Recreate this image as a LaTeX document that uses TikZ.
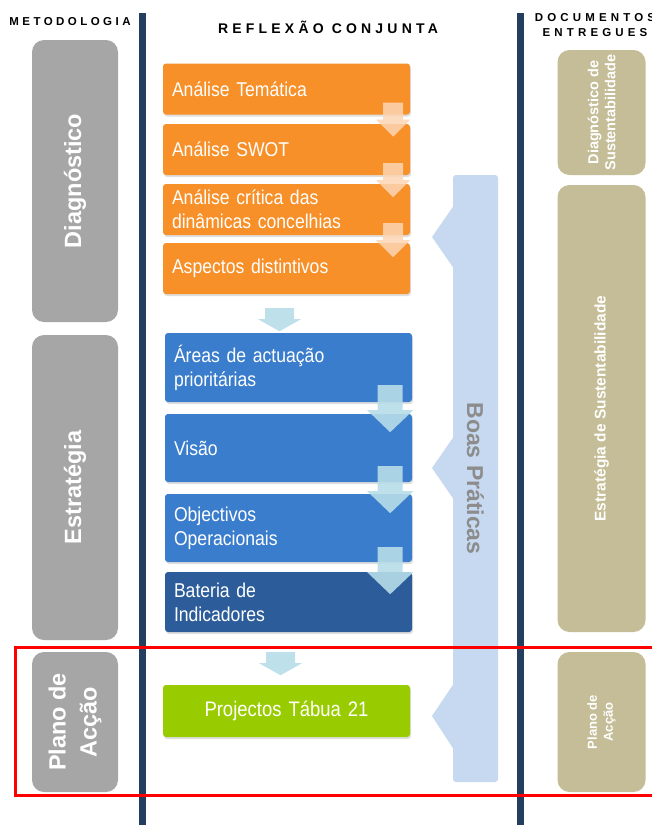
\documentclass[tikz,border=0pt]{standalone}
\usepackage{fontspec}
\setmainfont{Liberation Sans}
\newfontfamily\headfont[LetterSpace=30]{Liberation Sans}
\newfontfamily\wideheadfont[LetterSpace=36]{Liberation Sans}
\newfontfamily\boxfont[FakeStretch=0.88,WordSpace=0.75]{Liberation Sans}
\usepackage{tikz}
\usetikzlibrary{calc}
\usetikzlibrary{shadows}

\definecolor{navy}{RGB}{36,62,96}
\definecolor{metgray}{RGB}{166,166,166}
\definecolor{doctan}{RGB}{196,189,151}
\definecolor{orangebox}{RGB}{247,144,40}
\definecolor{bluebox}{RGB}{58,125,204}
\definecolor{darkbluebox}{RGB}{44,93,154}
\definecolor{greenbox}{RGB}{153,204,0}
\definecolor{practice}{RGB}{198,217,241}
\definecolor{practicetext}{RGB}{140,140,140}
\definecolor{peach}{RGB}{252,213,180}
\definecolor{skyarrow}{RGB}{183,221,232}

\tikzset{
  pics/dnarrow/.style args={#1/#2/#3/#4}{code={
    \fill[pic actions] (-#1/2,0) -- (#1/2,0) -- (#1/2,#2) -- (#3/2,#2)
      -- (0,#2+#4) -- (-#3/2,#2) -- (-#1/2,#2) -- cycle;}}
}

\begin{document}
\begin{tikzpicture}[x=1pt,y=-1pt,
  header/.style={font=\headfont\bfseries\fontsize{11.5}{15}\selectfont,align=center,inner sep=0pt},
  phase/.style={rectangle,rounded corners=12pt,fill=metgray,text=white,rotate=90,
    minimum height=86pt,inner sep=0pt,align=center,
    font=\bfseries\fontsize{23.5}{31}\selectfont},
  doc/.style={rectangle,rounded corners=12pt,fill=doctan,text=white,rotate=90,
    minimum height=88pt,inner sep=0pt,align=center,
    font=\bfseries\fontsize{14.5}{17}\selectfont},
  task/.style={rectangle,rounded corners=3pt,text=white,
    text width=229pt,inner xsep=9pt,inner ysep=0pt,align=left,
    font=\boxfont\fontsize{20}{24}\selectfont,
    drop shadow={shadow xshift=1pt,shadow yshift=-2pt,opacity=0.25}},
  analise/.style={task,fill=orangebox,minimum height=51pt},
  strat/.style={task,fill=bluebox,minimum height=68pt},
]
\fill[white] (0,0) rectangle (652,825);
\useasboundingbox (0,0) rectangle (652,825);

% column headers
\node[header] (h_met) at (70,22) {METODOLOGIA};
\node[header,font=\headfont\bfseries\fontsize{14}{15}\selectfont] (h_ref) at (328,27) {REFLEXÃO CONJUNTA};
\node[header,font=\wideheadfont\bfseries\fontsize{11.5}{15}\selectfont] (h_doc) at (595,25) {DOCUMENTOS\\ENTREGUES};

% column separators
\draw[navy,line width=7pt] (142,13) -- (142,825);
\draw[navy,line width=7pt] (520,13) -- (520,825);

% methodology phases
\node[phase,minimum width=282pt] (diag) at (75,181) {Diagnóstico};
\node[phase,minimum width=305pt] (estr) at (75,487.5) {Estratégia};
\node[phase,minimum width=140pt] (plano) at (75,722) {Plano de\\Acção};

% good practices bar, pointing back at the phases
\node[rectangle,rounded corners=3pt,fill=practice,rotate=-90,
  minimum width=607pt,minimum height=45pt,inner sep=0pt,
  text=practicetext,font=\bfseries\fontsize{23}{26}\selectfont] (boas) at (475.5,478.5) {Boas Práticas};
\fill[practice] (boas.south |- 0,207) -- (432,237) -- (boas.south |- 0,267) -- cycle;
\fill[practice] (boas.south |- 0,438) -- (432,468) -- (boas.south |- 0,498) -- cycle;
\fill[practice] (boas.south |- 0,685) -- (432,716) -- (boas.south |- 0,748) -- cycle;

% diagnosis
\node[analise] (tematica) at (286.5,89) {Análise Temática};
\node[analise] (swot) at (286.5,149.5) {Análise SWOT};
\node[analise] (critica) at (286.5,209.5) {Análise crítica das\\dinâmicas concelhias};
\node[analise] (aspectos) at (286.5,268.5) {Aspectos distintivos};

% strategy
\node[strat,minimum height=69pt] (areas) at (288.5,367.5) {Áreas de actuação\\prioritárias};
\node[strat] (visao) at (288.5,448) {Visão};
\node[strat] (objectivos) at (288.5,528) {Objectivos\\Operacionais};
\node[strat,fill=darkbluebox,minimum height=60pt] (bateria) at (288.5,602) {Bateria de\\Indicadores};

% action plan
\node[task,fill=greenbox,minimum height=52pt,align=center,
  font=\boxfont\fontsize{21}{24}\selectfont] (projectos) at (286.5,711) {Projectos Tábua 21};

% flow arrows
\pic[fill=peach,fill opacity=0.85] at ($(tematica.south east)+(-17,-12)$) {dnarrow=20/17/34/17};
\pic[fill=peach,fill opacity=0.85] at ($(swot.south east)+(-17,-12)$) {dnarrow=20/17/34/17};
\pic[fill=peach,fill opacity=0.85] at ($(critica.south east)+(-17,-12)$) {dnarrow=20/17/34/17};
\pic[fill=skyarrow,fill opacity=0.9] at ($(aspectos.south)+(-7,14)$) {dnarrow=29/11/43/12};
\pic[fill=skyarrow,fill opacity=0.9] at ($(areas.south east)+(-22,-17)$) {dnarrow=25/25/46/22};
\pic[fill=skyarrow,fill opacity=0.9] at ($(visao.south east)+(-22,-16)$) {dnarrow=25/25/46/22};
\pic[fill=skyarrow,fill opacity=0.9] at ($(objectivos.south east)+(-22,-15)$) {dnarrow=25/25/46/22};
\pic[fill=skyarrow,fill opacity=0.9] at ($(bateria.south)+(-8,20)$) {dnarrow=29/11/43/12};

% delivered documents
\node[doc,minimum width=125pt] (docdiag) at (601.5,112.5) {Diagnóstico de\\Sustentabilidade};
\node[doc,minimum width=447pt,font=\bfseries\fontsize{15.5}{17}\selectfont] (docestr) at (601.5,408.5) {Estratégia de Sustentabilidade};
\node[doc,minimum width=140pt,font=\bfseries\fontsize{13}{16}\selectfont] (docplano) at (601.5,722) {Plano de\\Acção};

% action plan highlight
\draw[red,line width=3pt] (15,647) rectangle (660,795);
\end{tikzpicture}
\end{document}
